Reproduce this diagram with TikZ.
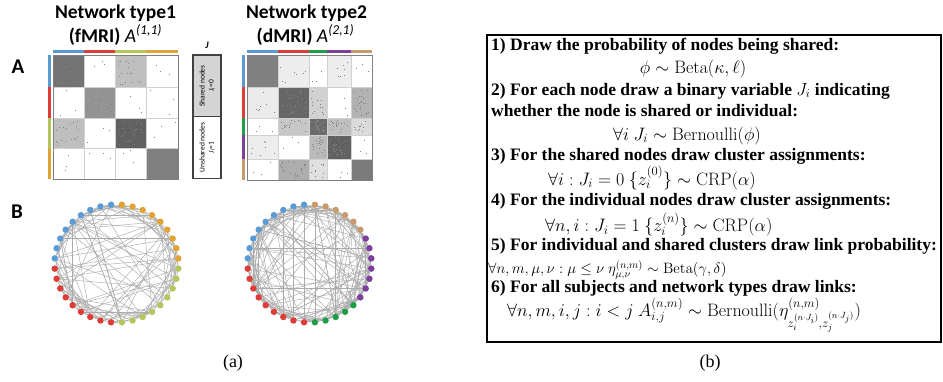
\RequirePackage{fix-cm}
\documentclass[tikz,border=0pt]{standalone}
\usepackage[no-math]{fontspec}
\setmainfont{Liberation Serif}
\newfontfamily\calibri{Carlito}
\usetikzlibrary{backgrounds}

\definecolor{cblue}{HTML}{5B9BD5}
\definecolor{cred}{HTML}{DC3D36}
\definecolor{clime}{HTML}{B3C65C}
\definecolor{corange}{HTML}{E2A335}
\definecolor{cgreen}{HTML}{1E9E46}
\definecolor{cpurple}{HTML}{7B3F9E}
\definecolor{ctan}{HTML}{C99A6C}
\definecolor{edgegray}{HTML}{ABABAB}

\tikzset{
  paneltitle/.style={font=\calibri\bfseries\fontsize{19.5}{22}\selectfont, inner sep=0pt},
  panelletter/.style={font=\calibri\bfseries\fontsize{21}{24}\selectfont, inner sep=0pt},
  jcell/.style={draw=black!75, line width=1.2pt, rotate=90, minimum width=62pt, minimum height=28pt,
    inner sep=0pt, align=center, font=\calibri\fontsize{7.5}{9}\selectfont},
  netdot/.style={circle, inner sep=0pt, minimum size=6.5pt},
  netedge/.style={draw=edgegray, line width=0.45pt},
  stepline/.style={anchor=base west, inner sep=0pt, font=\bfseries\fontsize{17.5}{19}\selectfont},
  formula/.style={inner sep=0pt, font=\fontsize{18}{20}\selectfont},
  sublabel/.style={inner sep=0pt, font=\fontsize{18}{20}\selectfont},
}

% block matrix: x bounds, y bounds, shades per row, cluster colours
\newcommand{\adjmat}[4]{%
  \def\xs{#1}\def\ys{#2}%
  \foreach \r/\shades in {#3} {
    \foreach \s [count=\c from 0] in \shades {
      \pgfmathsetmacro\xa{\xs[\c]}\pgfmathsetmacro\xb{\xs[\c+1]}
      \pgfmathsetmacro\ya{\ys[\r]}\pgfmathsetmacro\yb{\ys[\r+1]}
      \filldraw[fill=black!\s, draw=black!18, line width=0.5pt] (\xa,\ya) rectangle (\xb,\yb);
      \pgfmathtruncatemacro\nd{3+0.6*\s}
      \foreach \k in {1,...,\nd}
        \fill[black!50] ({\xa+2+rnd*(\xb-\xa-5)},{\ya+2+rnd*(\yb-\ya-5)}) rectangle ++(0.9,0.9);
    }
  }
  \foreach \cl [count=\c from 0] in {#4} {
    \pgfmathsetmacro\xa{\xs[\c]}\pgfmathsetmacro\xb{\xs[\c+1]}
    \pgfmathsetmacro\ya{\ys[\c]}\pgfmathsetmacro\yb{\ys[\c+1]}
    \pgfmathsetmacro\yt{\ys[0]-3.5}\pgfmathsetmacro\xl{\xs[0]-3.5}
    \draw[\cl, line width=2.6pt] (\xa,\yt) -- (\xb,\yt);
    \draw[\cl, line width=2.6pt] (\xl,\ya) -- (\xl,\yb);
  }
}

% circular network: name prefix, centre, colour ranges
\newcommand{\ringnet}[4]{%
  \foreach \a/\b/\cl in {#4}
    \foreach \i in {\a,...,\b}
      \node[netdot, fill=\cl] (#1\i) at ({#2+62*cos(85+10*\i)},{#3-59*sin(85+10*\i)}) {};
}

% links: name prefix, number of long chords, short links per node
\newcommand{\ringedges}[3]{%
  \begin{scope}[on background layer]
  \foreach \k in {1,...,#2} {
    \pgfmathtruncatemacro\p{random(1,36)}
    \pgfmathtruncatemacro\q{random(1,36)}
    \ifnum\p=\q\relax\else\draw[netedge] (#1\p) -- (#1\q);\fi
  }
  \foreach \i in {1,...,36} \foreach \k in {1,...,#3} {
    \pgfmathtruncatemacro\q{mod(\i+random(2,7)-1,36)+1}
    \draw[netedge] (#1\i) -- (#1\q);
  }
  \end{scope}
}

\begin{document}
\begin{tikzpicture}[x=1pt,y=-1pt]
\useasboundingbox (0,0) rectangle (943,381);
\pgfmathsetseed{4}

% panel A: the two adjacency matrices
\node[panelletter] (letA) at (18,67) {A};
\node[paneltitle] (titleL) at (115.5,13) {Network type1};
\node[paneltitle] (subL) at (115.5,35) {(fMRI) {\mdseries\itshape A\textsuperscript{(1,1)}}};
\node[paneltitle] (titleR) at (306.5,13) {Network type2};
\node[paneltitle] (subR) at (305.5,35) {(dMRI) {\mdseries\itshape A\textsuperscript{(2,1)}}};

\adjmat{{53,84,115,146,178}}{{55,87,118,148,179}}
  {0/{55,0,25,0},1/{0,42,0,0},2/{25,0,62,0},3/{0,0,0,50}}{cblue,cred,clime,corange}
\draw[black!50, line width=0.8pt] (53,55) rectangle (178,179);

\adjmat{{247,278,309,327,351,372}}{{55,87,118,135,159,180}}
  {0/{50,7,0,7,0},1/{8,60,18,0,30},2/{0,22,58,25,14},3/{7,0,27,62,0},4/{0,32,12,0,52}}
  {cblue,cred,cgreen,cpurple,ctan}
\draw[black!50, line width=0.8pt] (247,55) rectangle (372,180);

% shared / unshared indicator
\node[font=\calibri\bfseries\itshape\fontsize{10}{12}\selectfont] (jlab) at (207,45) {J};
\node[jcell, fill=black!17] (shared) at (207,86) {Shared nodes\\\textit{J}\textsubscript{\textit{i}}=0};
\node[jcell, fill=white] (unshared) at (207,147.5) {Unshared nodes\\\textit{J}\textsubscript{\textit{i}}=1};

% panel B: networks
\node[panelletter] (letB) at (17,212) {B};
\ringnet{l}{116.5}{263.5}{1/9/cblue,10/18/cred,19/27/clime,28/36/corange}
\ringnet{r}{309.5}{263.5}{1/9/cblue,10/18/cred,19/23/cgreen,24/30/cpurple,31/36/ctan}
\ringedges{l}{70}{2}
\ringedges{r}{95}{3}

\node[sublabel] (capa) at (233,363) {(a)};

% generative process
\node[draw, line width=1.1pt, minimum width=454pt, minimum height=307pt, inner sep=0pt] (algo) at (714,188.5) {};
\node[stepline] (s1) at (491,50.5) {1) Draw the probability of nodes being shared:};
\node[formula, anchor=base] (f1) at (693,73) {$\phi \sim \mathrm{Beta}(\kappa,\ell)$};
\node[stepline] (s2) at (491,95) {2) For each node draw a binary variable $J_i$ indicating};
\node[stepline] (s2b) at (491,116.5) {whether the node is shared or individual:};
\node[formula, anchor=base] (f2) at (687,140) {$\forall i\ J_i \sim \mathrm{Bernoulli}(\phi)$};
\node[stepline] (s3) at (491,160) {3) For the shared nodes draw cluster assignments:};
\node[formula, anchor=base west] (f3) at (548,185) {$\forall i: J_i = 0\ \{z_i^{(0)}\} \sim \mathrm{CRP}(\alpha)$};
\node[stepline] (s4) at (491,205) {4) For the individual nodes draw cluster assignments:};
\node[formula, anchor=base west] (f4) at (545,231.5) {$\forall n,i: J_i = 1\ \{z_i^{(n)}\} \sim \mathrm{CRP}(\alpha)$};
\node[stepline] (s5) at (491,250) {5) For individual and shared clusters draw link probability:};
\node[formula, anchor=base west, font=\fontsize{15}{17}\selectfont] (f5) at (488,273.5) {$\forall n,m,\mu,\nu: \mu \leq \nu\ \eta_{\mu,\nu}^{(n,m)} \sim \mathrm{Beta}(\gamma,\delta)$};
\node[stepline] (s6) at (491,292) {6) For all subjects and network types draw links:};
\node[formula, anchor=base west] (f6) at (507,316.5) {$\forall n,m,i,j: i<j\ A_{i,j}^{(n,m)} \sim \mathrm{Bernoulli}(\eta^{(n,m)}_{z_i^{(n\cdot J_i)},z_j^{(n\cdot J_j)}})$};

\node[sublabel] (capb) at (710,363) {(b)};
\end{tikzpicture}
\end{document}
